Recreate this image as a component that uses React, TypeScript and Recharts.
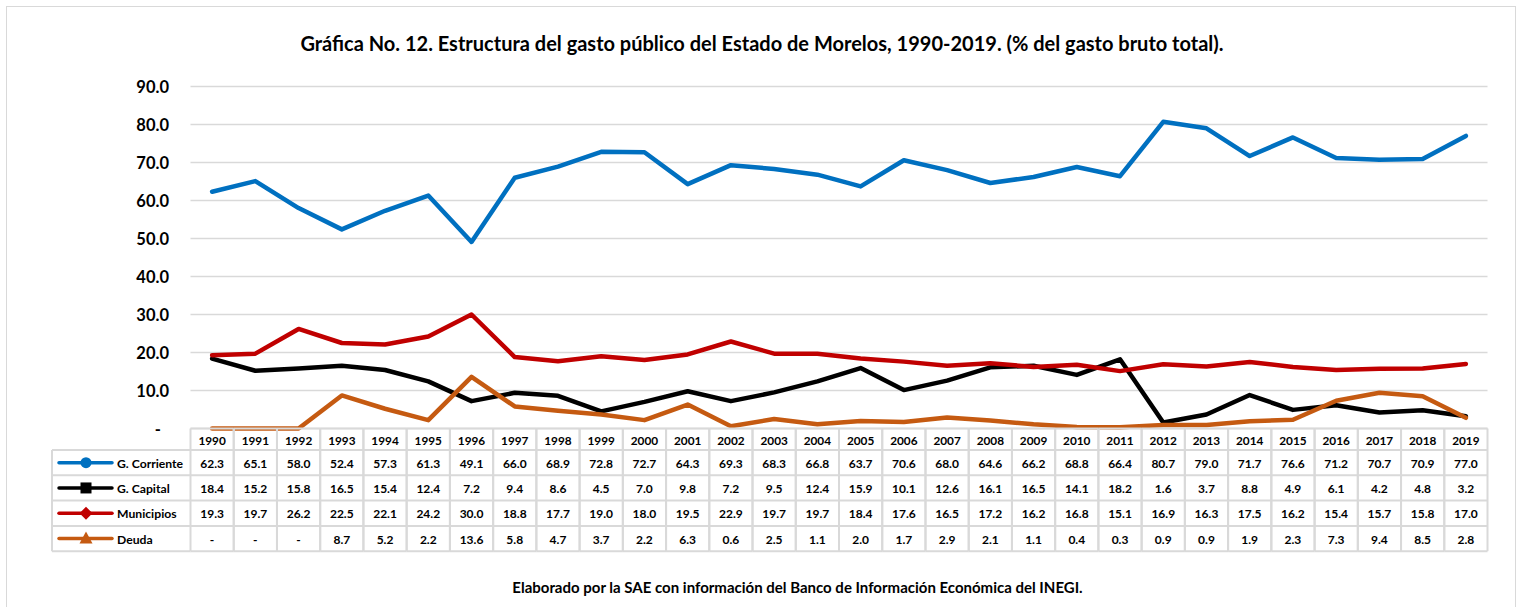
import React from 'react';
import { LineChart, Line, XAxis, YAxis, CartesianGrid } from 'recharts';

const years = ['1990','1991','1992','1993','1994','1995','1996','1997','1998','1999','2000','2001','2002','2003','2004','2005','2006','2007','2008','2009','2010','2011','2012','2013','2014','2015','2016','2017','2018','2019'];
const corriente = [62.3, 65.1, 58.0, 52.4, 57.3, 61.3, 49.1, 66.0, 68.9, 72.8, 72.7, 64.3, 69.3, 68.3, 66.8, 63.7, 70.6, 68.0, 64.6, 66.2, 68.8, 66.4, 80.7, 79.0, 71.7, 76.6, 71.2, 70.7, 70.9, 77.0];
const capital = [18.4, 15.2, 15.8, 16.5, 15.4, 12.4, 7.2, 9.4, 8.6, 4.5, 7.0, 9.8, 7.2, 9.5, 12.4, 15.9, 10.1, 12.6, 16.1, 16.5, 14.1, 18.2, 1.6, 3.7, 8.8, 4.9, 6.1, 4.2, 4.8, 3.2];
const municipios = [19.3, 19.7, 26.2, 22.5, 22.1, 24.2, 30.0, 18.8, 17.7, 19.0, 18.0, 19.5, 22.9, 19.7, 19.7, 18.4, 17.6, 16.5, 17.2, 16.2, 16.8, 15.1, 16.9, 16.3, 17.5, 16.2, 15.4, 15.7, 15.8, 17.0];
const deuda = [0, 0, 0, 8.7, 5.2, 2.2, 13.6, 5.8, 4.7, 3.7, 2.2, 6.3, 0.6, 2.5, 1.1, 2.0, 1.7, 2.9, 2.1, 1.1, 0.4, 0.3, 0.9, 0.9, 1.9, 2.3, 7.3, 9.4, 8.5, 2.8];
const yTicks = [0, 10, 20, 30, 40, 50, 60, 70, 80, 90];

const seriesDefs = [
  { key: 'corriente', name: 'G. Corriente', color: '#0070C0', values: corriente, marker: 'circle' },
  { key: 'capital', name: 'G. Capital', color: '#000000', values: capital, marker: 'square' },
  { key: 'municipios', name: 'Municipios', color: '#C00000', values: municipios, marker: 'diamond' },
  { key: 'deuda', name: 'Deuda', color: '#C55A11', values: deuda, marker: 'triangle' },
];

const data = years.map((y, i) => ({
  year: y,
  corriente: corriente[i],
  capital: capital[i],
  municipios: municipios[i],
  deuda: deuda[i],
}));

const W = 1522;
const H = 607;
const Y_AXIS_W = 190.5;
const RIGHT = 34.5;
const BW = (W - Y_AXIS_W - RIGHT) / years.length;
const FONT = 'Lato, "Liberation Sans", sans-serif';
const GRID = '#D9D9D9';
const HEADER_H = 21.5;
const ROW_H = 25.3;
const LABEL_W = 138.5;

const fmt = (v: number) => (v === 0 ? '-' : v.toFixed(1));

const Marker = ({ type, cx, cy, color }: any) => {
  if (type === 'circle') return <circle cx={cx} cy={cy} r={5.5} fill={color} />;
  if (type === 'square') return <rect x={cx - 5.5} y={cy - 5.5} width={11} height={11} fill={color} />;
  if (type === 'diamond') return <polygon points={`${cx},${cy - 6.5} ${cx + 6.5},${cy} ${cx},${cy + 6.5} ${cx - 6.5},${cy}`} fill={color} />;
  return <polygon points={`${cx},${cy - 7} ${cx + 6.5},${cy + 5} ${cx - 6.5},${cy + 5}`} fill={color} />;
};

const TableTick = (props: any) => {
  const { x, y, payload } = props;
  const i = years.indexOf(String(payload.value));
  const left = x - BW / 2;
  const right = x + BW / 2;
  const top = y;
  const rowsTop = top + HEADER_H;
  const bottom = rowsTop + ROW_H * 4;
  const parts: any[] = [];
  parts.push(<line key="hl" x1={left} y1={top} x2={left} y2={bottom} stroke={GRID} strokeWidth={2} />);
  parts.push(<line key="hr" x1={right} y1={top} x2={right} y2={bottom} stroke={GRID} strokeWidth={2} />);
  parts.push(<line key="ht" x1={left} y1={top} x2={right} y2={top} stroke={GRID} strokeWidth={2} />);
  for (let r = 0; r <= 4; r++) {
    const yy = rowsTop + r * ROW_H;
    parts.push(<line key={`h${r}`} x1={left} y1={yy} x2={right} y2={yy} stroke={GRID} strokeWidth={2} />);
  }
  parts.push(
    <text key="yr" x={x} y={top + HEADER_H / 2 + 1} textAnchor="middle" dominantBaseline="central" fontFamily={FONT} fontWeight={700} fontSize={11.8} fill="#000">
      {payload.value}
    </text>
  );
  seriesDefs.forEach((s, r) => {
    parts.push(
      <text key={`v${r}`} x={x} y={rowsTop + r * ROW_H + ROW_H / 2 + 0.5} textAnchor="middle" dominantBaseline="central" fontFamily={FONT} fontWeight={700} fontSize={12} fill="#000">
        {fmt(s.values[i])}
      </text>
    );
  });
  if (i === 0) {
    const lx = left - LABEL_W;
    parts.push(<line key="ll" x1={lx} y1={rowsTop} x2={lx} y2={bottom} stroke={GRID} strokeWidth={2} />);
    for (let r = 0; r <= 4; r++) {
      const yy = rowsTop + r * ROW_H;
      parts.push(<line key={`lh${r}`} x1={lx} y1={yy} x2={left} y2={yy} stroke={GRID} strokeWidth={2} />);
    }
    seriesDefs.forEach((s, r) => {
      const cy = rowsTop + r * ROW_H + ROW_H / 2;
      parts.push(<line key={`ln${r}`} x1={lx + 7} y1={cy} x2={lx + 60} y2={cy} stroke={s.color} strokeWidth={3.5} strokeLinecap="round" />);
      parts.push(<Marker key={`mk${r}`} type={s.marker} cx={lx + 34} cy={cy} color={s.color} />);
      parts.push(
        <text key={`lb${r}`} x={lx + 65} y={cy + 0.5} dominantBaseline="central" fontFamily={FONT} fontWeight={700} fontSize={12.2} fill="#000">
          {s.name}
        </text>
      );
    });
  }
  return <g>{parts}</g>;
};

const YTick = (props: any) => {
  const { y, payload } = props;
  const v = payload.value as number;
  const label = v === 0 ? '-' : v.toFixed(1);
  const xx = v === 0 ? 161 : 169;
  return (
    <text x={xx} y={y} textAnchor="end" dominantBaseline="central" fontFamily={FONT} fontWeight={700} fontSize={16.5} fill="#000">
      {label}
    </text>
  );
};

export default function App() {
  return (
    <div style={{ position: 'absolute', left: 0, top: 0, width: W, height: H, overflow: 'hidden', background: '#fff' }}>
      <div style={{ position: 'absolute', left: 6, top: 6, width: 1510, height: 700, border: '1.5px solid #D9D9D9', boxSizing: 'border-box' }} />
      <div style={{ position: 'absolute', left: 262, top: 31, width: 1000, textAlign: 'center', fontFamily: FONT, fontWeight: 700, fontSize: 20, lineHeight: '24px', color: '#000', whiteSpace: 'nowrap' }}>
        Gráfica No. 12. Estructura del gasto público del Estado de Morelos, 1990-2019. (% del gasto bruto total).
      </div>
      <div style={{ position: 'absolute', left: 297.5, top: 578, width: 1000, textAlign: 'center', fontFamily: FONT, fontWeight: 700, fontSize: 15, lineHeight: '18px', color: '#000', whiteSpace: 'nowrap' }}>
        Elaborado por la SAE con información del Banco de Información Económica del INEGI.
      </div>
      <div style={{ position: 'absolute', left: 0, top: 0 }}>
        <LineChart width={W} height={H} data={data} margin={{ top: 86.5, right: RIGHT, bottom: 0.5, left: 0 }}>
          <CartesianGrid vertical={false} stroke={GRID} strokeWidth={1.5} />
          <XAxis
            dataKey="year"
            type="category"
            interval={0}
            height={178}
            padding={{ left: BW / 2, right: BW / 2 }}
            axisLine={false}
            tickLine={false}
            tickSize={0}
            tickMargin={0}
            tick={<TableTick />}
          />
          <YAxis
            width={Y_AXIS_W}
            domain={[0, 90]}
            ticks={yTicks}
            interval={0}
            axisLine={false}
            tickLine={false}
            tick={<YTick />}
          />
          {seriesDefs.map((s) => (
            <Line
              key={s.key}
              dataKey={s.key}
              name={s.name}
              stroke={s.color}
              strokeWidth={4.5}
              strokeLinecap="round"
              strokeLinejoin="round"
              dot={false}
              activeDot={false}
              type="linear"
              isAnimationActive={false}
            />
          ))}
        </LineChart>
      </div>
    </div>
  );
}
